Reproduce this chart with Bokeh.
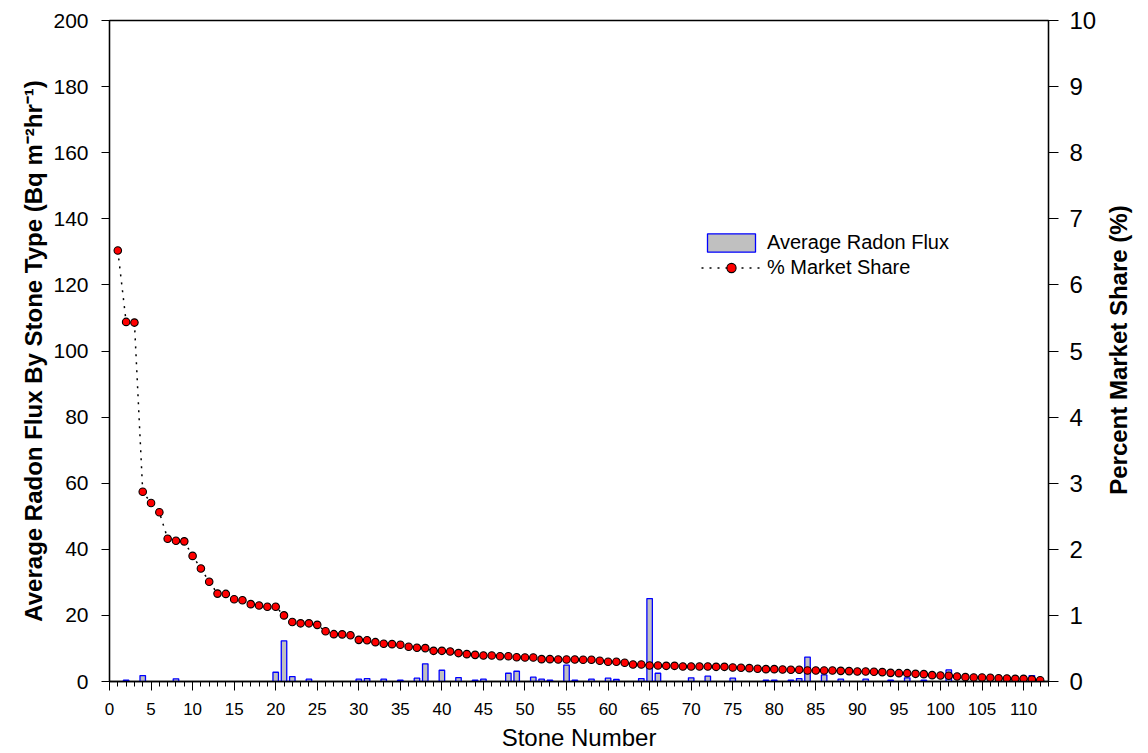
import math
from bokeh.plotting import figure
from bokeh.models import (Range1d, LinearAxis, SingleIntervalTicker, Legend,
                          LegendItem, ColumnDataSource)
from bokeh.embed import file_html
from bokeh.resources import INLINE

# ---------------- data ----------------
stone_numbers = list(range(1, 113))
market_share = [
    6.52, 5.44, 5.43, 2.87, 2.70, 2.56, 2.16, 2.13, 2.12, 1.90,
    1.71, 1.51, 1.33, 1.325, 1.245, 1.23, 1.17, 1.15, 1.13, 1.13,
    1.00, 0.90, 0.88, 0.88, 0.857, 0.76, 0.716, 0.713, 0.70, 0.63,
    0.625, 0.595, 0.57, 0.565, 0.555, 0.525, 0.51, 0.505, 0.464, 0.464,
    0.453, 0.43, 0.414, 0.403, 0.393, 0.393, 0.383, 0.383, 0.368, 0.363,
    0.363, 0.338, 0.338, 0.333, 0.333, 0.333, 0.33, 0.328, 0.313, 0.298,
    0.298, 0.283, 0.257, 0.257, 0.242, 0.242, 0.237, 0.237, 0.227, 0.227,
    0.227, 0.227, 0.222, 0.222, 0.212, 0.207, 0.202, 0.192, 0.187, 0.187,
    0.182, 0.177, 0.177, 0.166, 0.166, 0.166, 0.166, 0.161, 0.157, 0.152,
    0.152, 0.147, 0.142, 0.131, 0.126, 0.126, 0.116, 0.111, 0.096, 0.091,
    0.086, 0.076, 0.066, 0.061, 0.061, 0.056, 0.050, 0.045, 0.040, 0.040,
    0.030, 0.020,
]
flux_stones = [2, 4, 8, 20, 21, 22, 24, 30, 31, 33, 35, 37, 38, 40, 42, 44, 45,
               48, 49, 51, 52, 53, 55, 56, 58, 60, 61, 64, 65, 66, 70, 72, 75,
               79, 80, 82, 83, 84, 86, 88, 91, 94, 96, 98, 101, 111]
flux_values = [0.4, 1.8, 0.8, 2.8, 12.3, 1.5, 0.7, 0.7, 0.9, 0.7, 0.4, 1.0, 5.35,
               3.4, 1.2, 0.4, 0.7, 2.5, 3.1, 1.3, 0.7, 0.4, 4.95, 0.4, 0.7, 1.0,
               0.6, 0.9, 25.1, 2.5, 1.1, 1.6, 1.0, 0.4, 0.4, 0.4, 0.9, 7.4, 2.0,
               0.7, 0.7, 0.4, 1.1, 0.4, 3.5, 1.8]

x_ticks_interval = 5
left_ticks_interval = 20
right_ticks_interval = 1

FONT = "Liberation Sans"

bar_src = ColumnDataSource(dict(x=flux_stones, top=flux_values))
share_src = ColumnDataSource(dict(x=stone_numbers, y=market_share))

p = figure(width=1148, height=753, output_backend="svg", toolbar_location=None,
           x_range=Range1d(0, 113), y_range=Range1d(0, 200),
           min_border_left=109, min_border_right=99, min_border_top=20,
           min_border_bottom=0)
p.extra_y_ranges = {"share": Range1d(0, 10)}
p.xgrid.visible = False
p.ygrid.visible = False
p.outline_line_color = "black"
p.outline_line_width = 1.3
p.background_fill_color = "white"
p.border_fill_color = "white"

bars = p.vbar(x="x", top="top", width=0.66, bottom=0, source=bar_src,
              fill_color="#c0c0c0", line_color="#0000ff", line_width=1.3)
line = p.line(x="x", y="y", source=share_src, y_range_name="share",
              line_color="black", line_dash="2 6", line_width=1.5)
dots = p.scatter(x="x", y="y", source=share_src, y_range_name="share",
                 size=7.5, fill_color="red", line_color="black", line_width=1.1)


def style_axis(ax):
    ax.major_label_text_color = "black"
    ax.axis_label_text_color = "black"
    ax.axis_line_color = "black"
    ax.major_tick_line_color = "black"
    ax.axis_line_width = 1.3
    ax.major_label_text_font = FONT
    ax.axis_label_text_font = FONT
    ax.major_tick_in = 0


# x axis
xa = p.xaxis[0]
style_axis(xa)
xa.ticker = SingleIntervalTicker(interval=x_ticks_interval, num_minor_ticks=5)
xa.axis_label = "Stone Number"
xa.axis_label_text_font_style = "normal"
xa.axis_label_text_font_size = "24px"
xa.axis_label_standoff = 6
xa.major_label_text_font_size = "17px"
xa.major_label_standoff = 12
xa.major_tick_out = 9
xa.minor_tick_in = 0
xa.minor_tick_out = 5
xa.minor_tick_line_color = "black"

# left axis
ya = p.yaxis[0]
style_axis(ya)
ya.ticker = SingleIntervalTicker(interval=left_ticks_interval, num_minor_ticks=0)
ya.axis_label = "Average Radon Flux By Stone Type (Bq m\u207b\u00b2hr\u207b\u00b9)"
ya.axis_label_text_font_style = "bold"
ya.axis_label_text_font_size = "24px"
ya.axis_label_standoff = 3
ya.major_label_text_font_size = "21px"
ya.major_label_standoff = 13
ya.major_tick_out = 8
ya.minor_tick_line_color = None

# right axis
ra = LinearAxis(y_range_name="share",
                ticker=SingleIntervalTicker(interval=right_ticks_interval, num_minor_ticks=0))
style_axis(ra)
ra.major_label_text_font_size = "24px"
ra.major_label_standoff = 11
ra.major_tick_out = 10
ra.minor_tick_line_color = None
ra.axis_label_text_font_style = "bold"
ra.axis_label_text_font_size = "24px"
ra.axis_label_standoff = 19

right_title = "Percent Market Share (%)"
pad = ""
try:
    ra.axis_label_orientation = math.pi / 2   # read bottom-to-top
    try:
        ra.axis_label_align = "start"
        pad = "\u00a0" * 28                     # centre the left-anchored text
    except Exception:
        pad = ""
except Exception:
    pass
ra.axis_label = pad + right_title
p.add_layout(ra, "right")

legend = Legend(items=[
    LegendItem(label="Average Radon Flux", renderers=[bars]),
    LegendItem(label="% Market Share", renderers=[line, dots]),
], location=(592, 402))
legend.border_line_color = None
legend.background_fill_alpha = 0
legend.padding = 0
legend.margin = 0
legend.spacing = 2
legend.glyph_width = 60
legend.glyph_height = 23
legend.label_standoff = 6
legend.label_height = 20
legend.label_text_font = FONT
legend.label_text_font_size = "20px"
legend.label_text_color = "black"
p.add_layout(legend)

open("out.html", "w").write(file_html(p, INLINE))
